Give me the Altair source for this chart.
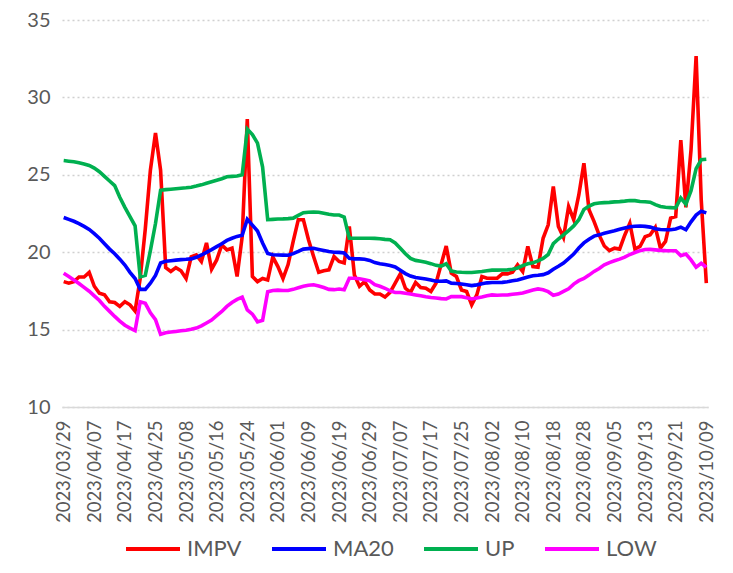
import altair as alt
import pandas as pd

# trading days 2023/03/29 .. 2023/10/09 (SSE calendar)
holidays = [
    "2023-04-05", "2023-05-01", "2023-05-02", "2023-05-03",
    "2023-06-22", "2023-06-23", "2023-09-29", "2023-10-02",
    "2023-10-03", "2023-10-04", "2023-10-05", "2023-10-06",
]
days = pd.bdate_range("2023-03-29", "2023-10-09", freq="C", holidays=holidays)
dates = [d.strftime("%Y/%m/%d") for d in days]

impv = [
    18.1, 18.0, 18.1, 18.4, 18.4, 18.7, 17.8, 17.35, 17.25, 16.8,
    16.75, 16.5, 16.8, 16.6, 16.2, 18.3, 21.5, 25.3, 27.7, 25.3,
    19.0, 18.75, 19.0, 18.8, 18.3, 19.7, 19.83, 19.4, 20.6, 18.9,
    19.5, 20.47, 20.15, 20.26, 18.43, 21.0, 28.6, 18.43, 18.1, 18.3,
    18.2, 19.7, 19.07, 18.3, 19.2, 20.7, 22.1, 22.1, 20.8, 19.72,
    18.7, 18.8, 18.86, 19.72, 19.4, 19.3, 21.66, 18.53, 17.8, 18.1,
    17.56, 17.3, 17.3, 17.1, 17.4, 18.0, 18.6, 17.67, 17.4, 18.04,
    17.72, 17.67, 17.46, 18.0, 19.2, 20.4, 18.64, 18.43, 17.56, 17.46,
    16.6, 17.24, 18.43, 18.32, 18.32, 18.32, 18.6, 18.6, 18.7, 19.18,
    18.75, 20.37, 19.07, 19.03, 20.9, 21.77, 24.25, 21.66, 20.95, 22.95,
    22.1, 23.7, 25.75, 22.74, 21.98, 21.1, 20.4, 20.1, 20.26, 20.2,
    21.1, 21.87, 20.2, 20.37, 21.0, 21.12, 21.6, 20.26, 20.7, 22.2,
    22.3, 27.24, 22.9, 26.6, 32.67, 23.4, 18.0,
]
ma20 = [
    22.24, 22.12, 22.0, 21.85, 21.67, 21.47, 21.2, 20.9, 20.55, 20.2,
    19.9, 19.55, 19.17, 18.7, 18.3, 17.6, 17.6, 18.0, 18.5, 19.3,
    19.41, 19.45, 19.49, 19.52, 19.54, 19.57, 19.67, 19.82, 19.99, 20.17,
    20.36, 20.55, 20.76, 20.9, 21.02, 21.1, 22.13, 21.75, 21.37, 20.6,
    19.92, 19.83, 19.82, 19.81, 19.8, 19.91, 20.05, 20.2, 20.23, 20.25,
    20.18, 20.11, 20.04, 20.0, 19.99, 19.95, 19.6, 19.57, 19.57, 19.55,
    19.47, 19.33, 19.25, 19.2, 19.14, 19.05, 18.83, 18.62, 18.46, 18.36,
    18.32, 18.27, 18.2, 18.13, 18.12, 18.15, 18.0, 17.98, 17.95, 17.9,
    17.84, 17.89, 17.96, 18.02, 18.04, 18.04, 18.05, 18.09, 18.15, 18.2,
    18.3, 18.4, 18.48, 18.51, 18.55, 18.67, 18.9, 19.09, 19.3, 19.59,
    19.88, 20.27, 20.6, 20.84, 21.04, 21.12, 21.22, 21.3, 21.38, 21.48,
    21.57, 21.64, 21.68, 21.69, 21.67, 21.62, 21.51, 21.47, 21.45, 21.45,
    21.5, 21.62, 21.45, 21.96, 22.4, 22.65, 22.54,
]
up = [
    25.92, 25.88, 25.84, 25.78, 25.7, 25.6, 25.43, 25.2, 24.9, 24.6,
    24.3, 23.55, 22.9, 22.3, 21.7, 18.4, 18.5, 20.1, 21.85, 24.0,
    24.04, 24.07, 24.1, 24.13, 24.16, 24.2, 24.27, 24.35, 24.45, 24.55,
    24.65, 24.75, 24.87, 24.9, 24.92, 25.0, 27.95, 27.6, 27.05, 25.5,
    22.1, 22.12, 22.14, 22.15, 22.17, 22.2, 22.38, 22.55, 22.58, 22.6,
    22.58, 22.52, 22.45, 22.4, 22.4, 22.27, 20.9, 20.9, 20.9, 20.9,
    20.9, 20.89, 20.87, 20.83, 20.8, 20.6, 20.26, 19.9, 19.6, 19.47,
    19.42, 19.35, 19.26, 19.15, 19.1, 19.25, 18.78, 18.72, 18.7, 18.69,
    18.69, 18.72, 18.75, 18.8, 18.84, 18.84, 18.85, 18.86, 18.9, 18.98,
    19.13, 19.25, 19.31, 19.44, 19.6, 19.85, 20.55, 20.85, 21.12, 21.4,
    21.7, 22.1, 22.76, 22.98, 23.13, 23.18, 23.2, 23.22, 23.25, 23.27,
    23.3, 23.34, 23.33, 23.28, 23.26, 23.23, 23.07, 22.95, 22.9, 22.88,
    22.86, 23.5, 23.1, 23.97, 25.4, 25.97, 26.0,
]
low = [
    18.64, 18.43, 18.2, 17.98, 17.73, 17.48, 17.18, 16.88, 16.5, 16.18,
    15.85, 15.55, 15.28, 15.1, 14.94, 16.8, 16.7, 16.08, 15.65, 14.7,
    14.8, 14.84, 14.88, 14.92, 14.96, 15.02, 15.1, 15.24, 15.43, 15.62,
    15.9, 16.17, 16.5, 16.75, 16.95, 17.1, 16.27, 16.0, 15.5, 15.6,
    17.45, 17.53, 17.55, 17.53, 17.53, 17.6, 17.7, 17.8, 17.86, 17.9,
    17.82, 17.72, 17.6, 17.58, 17.62, 17.57, 18.32, 18.32, 18.28, 18.22,
    18.15, 17.9, 17.8, 17.67, 17.5, 17.4, 17.4, 17.35, 17.3, 17.24,
    17.18, 17.12, 17.07, 17.04, 17.0, 16.98, 17.13, 17.13, 17.13, 17.06,
    16.98, 17.04, 17.1, 17.18, 17.24, 17.22, 17.24, 17.24, 17.28, 17.32,
    17.36, 17.46, 17.56, 17.63, 17.57, 17.45, 17.22, 17.3, 17.47, 17.64,
    17.94, 18.16, 18.3, 18.52, 18.76, 18.95, 19.18, 19.33, 19.45, 19.55,
    19.68, 19.85, 19.98, 20.1, 20.17, 20.18, 20.15, 20.12, 20.1, 20.09,
    20.09, 19.78, 19.88, 19.5, 19.03, 19.28, 19.03,
]

names = ["IMPV", "MA20", "UP", "LOW"]
colors = ["#FF0000", "#0000FF", "#00B050", "#FF00FF"]

rows = []
for name, vals in zip(names, [impv, ma20, up, low]):
    for d, v in zip(dates, vals):
        rows.append({"date": d, "series": name, "value": v})
source = pd.DataFrame(rows)

x = alt.X(
    "date:O",
    sort=dates,
    scale=alt.Scale(type="point", padding=0.33),
    axis=alt.Axis(
        values=dates[::6], labelAngle=-90, labelFontSize=18.5,
        labelColor="#595959", labelPadding=13, ticks=False, tickSize=0,
        domainColor="#D9D9D9", domainWidth=1.5, grid=False, title=None,
    ),
)
y = alt.Y(
    "value:Q",
    scale=alt.Scale(domain=[10, 35], nice=False, zero=False),
    axis=alt.Axis(
        values=[10, 15, 20, 25, 30, 35], grid=True, gridDash=[2, 3],
        gridColor="#D0D0D0", gridWidth=1.5, domain=False, ticks=False,
        labelFontSize=20, labelColor="#595959", labelPadding=12, title=None,
    ),
)
color = alt.Color(
    "series:N",
    scale=alt.Scale(domain=names, range=colors),
    legend=alt.Legend(
        orient="none", legendX=62, legendY=500, direction="horizontal",
        title=None, symbolType="stroke", symbolSize=2916,
        symbolStrokeWidth=4, labelFontSize=22, labelColor="#595959",
        labelOffset=5, columnPadding=22,
    ),
)

base = alt.Chart(source)
layers = [
    base.transform_filter(alt.datum.series == name)
    .mark_line(strokeWidth=3.6)
    .encode(x=x, y=y, color=color)
    for name in names
]

chart = alt.layer(*layers).properties(
    width=646,
    height=387,
    autosize=alt.AutoSizeParams(type="none"),
    padding={"left": 54, "top": 12, "right": 17, "bottom": 158},
).configure(font="Lato").configure_view(stroke=None)

chart.save("out.html", embed_options={"renderer": "svg", "actions": False})
